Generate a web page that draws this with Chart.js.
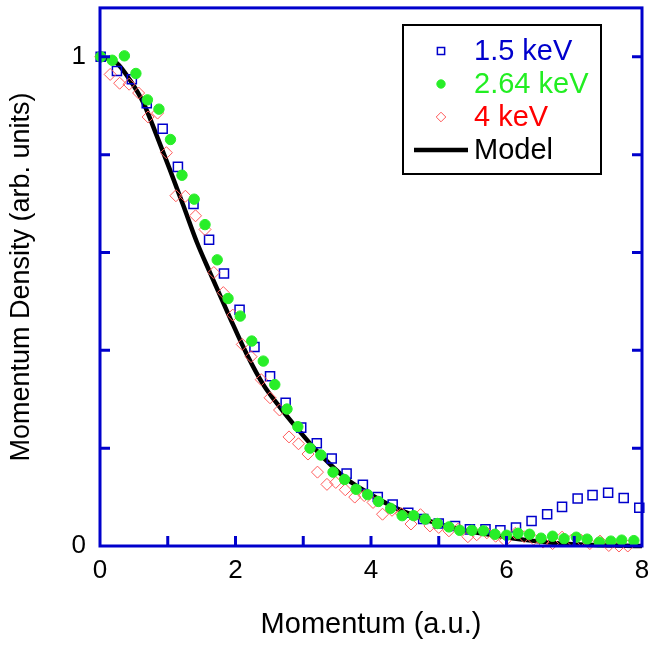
<!DOCTYPE html>
<html>
<head>
<meta charset="utf-8">
<script src="https://cdn.jsdelivr.net/npm/chart.js@4.4.1/dist/chart.umd.min.js"></script>
<style>
  html, body { margin: 0; padding: 0; background: #fff; }
  #wrap { width: 650px; height: 646px; }
</style>
</head>
<body>
<div id="wrap"><canvas id="momentumChart" width="650" height="646"></canvas></div>
<script>
// values
const blueX = [0.01, 0.25, 0.47, 0.69, 0.925, 1.15, 1.38, 1.61, 1.83, 2.06, 2.28, 2.51, 2.74, 2.97, 3.2, 3.42, 3.64, 3.88, 4.1, 4.32, 4.55, 4.77, 5.0, 5.24, 5.46, 5.69, 5.91, 6.14, 6.37, 6.6, 6.82, 7.05, 7.27, 7.5, 7.73, 7.96];
const blueY = [1.0, 0.971, 0.954, 0.905, 0.853, 0.775, 0.699, 0.626, 0.557, 0.483, 0.407, 0.347, 0.293, 0.242, 0.21, 0.179, 0.148, 0.125, 0.100, 0.085, 0.068, 0.055, 0.046, 0.041, 0.034, 0.034, 0.032, 0.038, 0.051, 0.065, 0.080, 0.097, 0.104, 0.109, 0.098, 0.078];

const greenX = [0.01, 0.18, 0.36, 0.53, 0.70, 0.87, 1.04, 1.21, 1.39, 1.55, 1.73, 1.89, 2.07, 2.24, 2.41, 2.58, 2.76, 2.92, 3.10, 3.26, 3.44, 3.61, 3.78, 3.95, 4.11, 4.29, 4.46, 4.63, 4.80, 4.98, 5.15, 5.31, 5.49, 5.66, 5.83, 6.0, 6.17, 6.34, 6.51, 6.68, 6.85, 7.03, 7.19, 7.37, 7.54, 7.70, 7.88];
const greenY = [1.0, 0.993, 1.002, 0.966, 0.912, 0.893, 0.831, 0.758, 0.709, 0.657, 0.585, 0.506, 0.470, 0.419, 0.378, 0.330, 0.280, 0.244, 0.200, 0.186, 0.151, 0.136, 0.116, 0.105, 0.091, 0.077, 0.062, 0.062, 0.055, 0.046, 0.039, 0.032, 0.032, 0.031, 0.024, 0.022, 0.026, 0.024, 0.016, 0.020, 0.015, 0.018, 0.014, 0.008, 0.010, 0.012, 0.011];

const redX = [0.01, 0.15, 0.29, 0.43, 0.57, 0.71, 0.85, 0.98, 1.12, 1.26, 1.41, 1.55, 1.68, 1.82, 1.96, 2.10, 2.23, 2.38, 2.51, 2.65, 2.79, 2.93, 3.07, 3.21, 3.35, 3.48, 3.62, 3.76, 3.90, 4.03, 4.17, 4.31, 4.45, 4.59, 4.73, 4.87, 5.0, 5.15, 5.29, 5.43, 5.56, 5.71, 5.84, 5.98, 6.13, 6.26, 6.40, 6.54, 6.68, 6.82, 6.96, 7.10, 7.23, 7.38, 7.51, 7.66, 7.79];
const redY = [1.0, 0.964, 0.946, 0.944, 0.926, 0.877, 0.885, 0.804, 0.716, 0.715, 0.675, 0.647, 0.559, 0.518, 0.472, 0.412, 0.387, 0.340, 0.303, 0.278, 0.223, 0.209, 0.188, 0.151, 0.126, 0.130, 0.115, 0.100, 0.103, 0.089, 0.065, 0.073, 0.066, 0.045, 0.064, 0.041, 0.038, 0.031, 0.035, 0.019, 0.023, 0.027, 0.020, 0.011, 0.026, 0.019, 0.014, 0.008, 0.005, 0.018, 0.012, 0.012, 0.005, 0.010, 0.001, 0.0, 0.0];

const modelX = [0, 0.25, 0.44, 0.64, 0.84, 1.03, 1.23, 1.43, 1.62, 1.92, 2.17, 2.41, 2.66, 2.90, 3.15, 3.39, 3.64, 3.89, 4.33, 4.82, 5.31, 5.81, 6.30, 6.79, 7.28, 8.0];
const modelY = [1.0, 0.987, 0.953, 0.906, 0.838, 0.770, 0.696, 0.621, 0.560, 0.466, 0.391, 0.330, 0.283, 0.242, 0.202, 0.168, 0.137, 0.114, 0.080, 0.053, 0.034, 0.022, 0.012, 0.005, 0.002, 0.0];

const xTickLabels = ['0', '2', '4', '6', '8'];
const yTickLabels = ['0', '1'];

const legendNames = ['1.5 keV', '2.64 keV', '4 keV', 'Model'];

const FONT = '"Liberation Sans", Arial, Helvetica, sans-serif';
const AXIS_BLUE = '#0000cc';

function toPoints(xs, ys) {
    return xs.map((x, i) => ({ x: x, y: ys[i] }));
}

// keep the plot box where the original has it, labels may overhang
function fixScale(s, size) {
    if (s.isHorizontal()) s.height = size; else s.width = size;
    s.paddingLeft = 0;
    s.paddingRight = 0;
    s.paddingTop = 0;
    s.paddingBottom = 0;
}

// blue frame with inward ticks, as in the original plot
const framePlugin = {
    id: 'frame',
    afterDraw(chart) {
        const { ctx, chartArea: a, scales } = chart;
        ctx.save();
        ctx.strokeStyle = AXIS_BLUE;
        ctx.lineWidth = 3;
        ctx.strokeRect(a.left, a.top, a.right - a.left, a.bottom - a.top);

        const len = 10;
        ctx.beginPath();
        scales.x.ticks.forEach(t => {
            const px = scales.x.getPixelForValue(t.value);
            if (t.value <= 0 || t.value >= 8) return;
            ctx.moveTo(px, a.bottom);
            ctx.lineTo(px, a.bottom - len);
        });
        scales.y.ticks.forEach(t => {
            const v = t.value;
            if (Math.abs(v / 0.2 - Math.round(v / 0.2)) > 1e-6 || v <= 0 || v > 1.05) return;
            const py = scales.y.getPixelForValue(v);
            ctx.moveTo(a.left, py);
            ctx.lineTo(a.left + len, py);
            ctx.moveTo(a.right, py);
            ctx.lineTo(a.right - len, py);
        });
        ctx.stroke();
        ctx.restore();
    }
};

// legend box drawn inside the plot, top right
const legendPlugin = {
    id: 'boxLegend',
    afterDraw(chart) {
        const { ctx } = chart;
        const ds = chart.data.datasets;
        const order = [1, 3, 2, 0]; // dataset index for each legend row
        const colors = [AXIS_BLUE, '#22ee22', '#ff0000', '#000000'];
        const box = { left: 403, top: 25, width: 198, height: 149 };
        ctx.save();
        ctx.fillStyle = '#fff';
        ctx.fillRect(box.left, box.top, box.width, box.height);
        ctx.strokeStyle = '#000';
        ctx.lineWidth = 2;
        ctx.strokeRect(box.left, box.top, box.width, box.height);

        ctx.font = '29px ' + FONT;
        ctx.textBaseline = 'middle';
        ctx.textAlign = 'left';
        legendNames.forEach((name, i) => {
            const y = box.top + 26 + i * 33;
            const d = ds[order[i]];
            if (d.showLine) {
                ctx.strokeStyle = '#000';
                ctx.lineWidth = 4.5;
                ctx.beginPath();
                ctx.moveTo(414, y);
                ctx.lineTo(468, y);
                ctx.stroke();
            } else {
                ctx.fillStyle = d.pointBackgroundColor;
                ctx.strokeStyle = d.pointBorderColor;
                ctx.lineWidth = d.borderWidth;
                Chart.helpers.drawPoint(ctx, {
                    pointStyle: d.pointStyle,
                    radius: d.pointRadius * 0.8,
                    borderWidth: d.borderWidth
                }, 441, y);
            }
            ctx.fillStyle = colors[i];
            ctx.fillText(name, 474, y + 1);
        });
        ctx.restore();
    }
};

const ctx = document.getElementById('momentumChart').getContext('2d');
new Chart(ctx, {
    type: 'scatter',
    data: {
        datasets: [
            {
                label: 'Model',
                data: toPoints(modelX, modelY),
                showLine: true,
                borderColor: '#000',
                borderWidth: 4.5,
                pointRadius: 0,
                cubicInterpolationMode: 'monotone',
                order: 4,
                clip: false
            },
            {
                label: '1.5 keV',
                data: toPoints(blueX, blueY),
                pointStyle: 'rect',
                pointRadius: 6.4,
                pointBackgroundColor: 'rgba(0,0,0,0)',
                pointBorderColor: AXIS_BLUE,
                borderWidth: 1.5,
                order: 3,
                clip: false
            },
            {
                label: '4 keV',
                data: toPoints(redX, redY),
                pointStyle: 'rectRot',
                pointRadius: 6,
                pointBackgroundColor: 'rgba(0,0,0,0)',
                pointBorderColor: '#ff5a5a',
                borderWidth: 1,
                order: 2,
                clip: false
            },
            {
                label: '2.64 keV',
                data: toPoints(greenX, greenY),
                pointStyle: 'circle',
                pointRadius: 5.2,
                pointBackgroundColor: '#28ee28',
                pointBorderColor: '#28ee28',
                borderWidth: 1,
                order: 1,
                clip: false
            }
        ]
    },
    options: {
        responsive: false,
        animation: false,
        layout: { padding: { left: 0, right: 8, top: 4, bottom: 0 } },
        plugins: {
            legend: { display: false },
            tooltip: { enabled: false }
        },
        scales: {
            x: {
                type: 'linear',
                min: 0,
                max: 8,
                afterFit: s => fixScale(s, 100),
                grid: { display: false, drawTicks: false },
                border: { display: false },
                ticks: {
                    stepSize: 1,
                    autoSkip: false,
                    maxRotation: 0,
                    padding: 9,
                    color: '#000',
                    font: { family: FONT, size: 26 },
                    callback: v => (v % 2 === 0 ? xTickLabels[v / 2] : '')
                },
                title: {
                    display: true,
                    text: 'Momentum (a.u.)',
                    color: '#000',
                    font: { family: FONT, size: 29, lineHeight: 1 },
                    padding: { top: 0, bottom: 7 }
                }
            },
            y: {
                type: 'linear',
                min: 0,
                max: 1.1,
                afterFit: s => fixScale(s, 100),
                grid: { display: false, drawTicks: false },
                border: { display: false },
                ticks: {
                    stepSize: 0.2,
                    autoSkip: false,
                    padding: 14,
                    color: '#000',
                    font: { family: FONT, size: 26 },
                    callback: v => (v === 0 ? yTickLabels[0] : (Math.abs(v - 1) < 1e-6 ? yTickLabels[1] : ''))
                },
                title: {
                    display: true,
                    text: 'Momentum Density (arb. units)',
                    color: '#000',
                    font: { family: FONT, size: 27, lineHeight: 1 },
                    padding: { top: 8, bottom: 0 }
                }
            }
        }
    },
    plugins: [framePlugin, legendPlugin]
});
</script>
</body>
</html>
